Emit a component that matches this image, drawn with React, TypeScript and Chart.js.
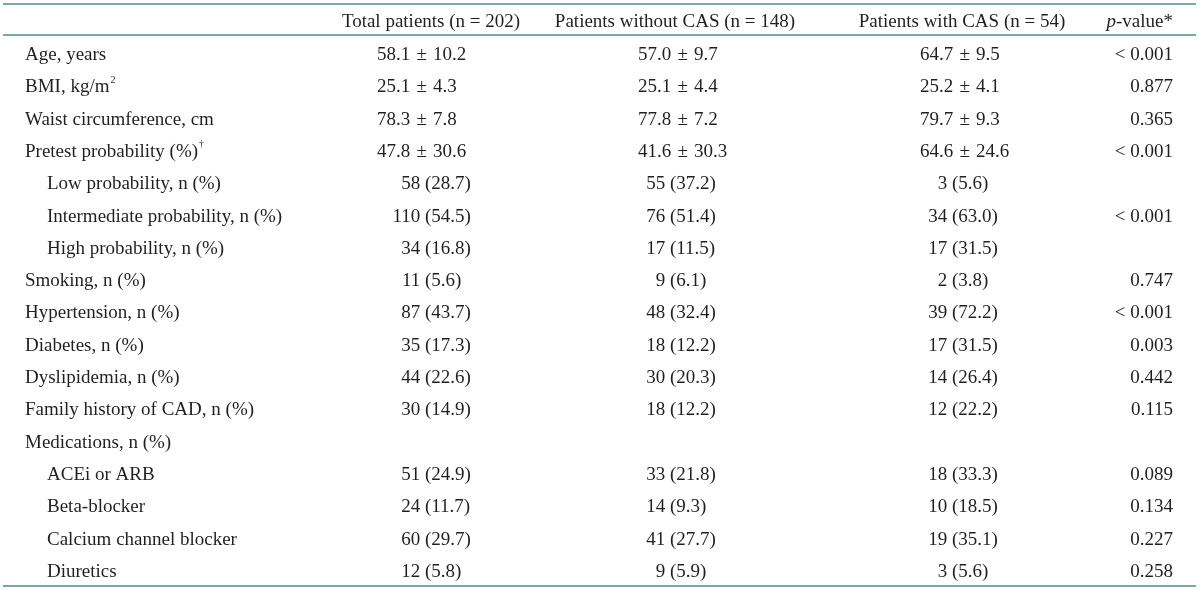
import React, { useEffect, useRef } from 'react';
import { Chart, registerables } from 'chart.js';
Chart.register(...registerables);

// ---- data ----
const columnHeaders = ['Total patients (n = 202)', 'Patients without CAS (n = 148)', 'Patients with CAS (n = 54)'];
const pHeader = ['p', '-value*'];

const rowLabels = [
  'Age, years',
  'BMI, kg/m',
  'Waist circumference, cm',
  'Pretest probability (%)',
  'Low probability, n (%)',
  'Intermediate probability, n (%)',
  'High probability, n (%)',
  'Smoking, n (%)',
  'Hypertension, n (%)',
  'Diabetes, n (%)',
  'Dyslipidemia, n (%)',
  'Family history of CAD, n (%)',
  'Medications, n (%)',
  'ACEi or ARB',
  'Beta-blocker',
  'Calcium channel blocker',
  'Diuretics',
];
const rowSuperscripts = ['', '2', '', '\u2020', '', '', '', '', '', '', '', '', '', '', '', '', ''];
const rowIndented = [false, false, false, false, true, true, true, false, false, false, false, false, false, true, true, true, true];

const totalPatients = [
  '58.1 ± 10.2', '25.1 ± 4.3', '78.3 ± 7.8', '47.8 ± 30.6',
  '58 (28.7)', '110 (54.5)', '34 (16.8)', '11 (5.6)', '87 (43.7)', '35 (17.3)',
  '44 (22.6)', '30 (14.9)', '', '51 (24.9)', '24 (11.7)', '60 (29.7)', '12 (5.8)',
];
const withoutCAS = [
  '57.0 ± 9.7', '25.1 ± 4.4', '77.8 ± 7.2', '41.6 ± 30.3',
  '55 (37.2)', '76 (51.4)', '17 (11.5)', '9 (6.1)', '48 (32.4)', '18 (12.2)',
  '30 (20.3)', '18 (12.2)', '', '33 (21.8)', '14 (9.3)', '41 (27.7)', '9 (5.9)',
];
const withCAS = [
  '64.7 ± 9.5', '25.2 ± 4.1', '79.7 ± 9.3', '64.6 ± 24.6',
  '3 (5.6)', '34 (63.0)', '17 (31.5)', '2 (3.8)', '39 (72.2)', '17 (31.5)',
  '14 (26.4)', '12 (22.2)', '', '18 (33.3)', '10 (18.5)', '19 (35.1)', '3 (5.6)',
];
const pValues = [
  '< 0.001', '0.877', '0.365', '< 0.001', '', '< 0.001', '', '0.747', '< 0.001',
  '0.003', '0.442', '0.115', '', '0.089', '0.134', '0.227', '0.258',
];

// ---- layout ----
const W = 1200;
const H = 590;
const FONT = 'Liberation Serif';
const FS = 19;
const TEXT = '#231f20';
const RULE = '#4a8c8e';
const rowPitch = 32.31;
const firstBaseline = 60;
const headerRow = -1.021;
const ruleRows = [-1.733, -0.774, 16.28];
const labelX = 25;
const indentX = 47;
const meanX = [377, 638, 920];
const parenX = [425, 670, 952];
const headerCenterX = [431, 675, 962];
const pRightX = 1173;

const columns = [totalPatients, withoutCAS, withCAS];

function buildPoints(col: string[], c: number) {
  return col.map((v, i) => ({ x: v.includes('±') ? meanX[c] : parenX[c], y: i }));
}

const tablePlugin = {
  id: 'tableText',
  afterDatasetsDraw(chart: any) {
    const ctx = chart.ctx as CanvasRenderingContext2D;
    const xs = chart.scales.x;
    const ys = chart.scales.y;
    ctx.save();
    // rules
    ctx.strokeStyle = RULE;
    ctx.lineWidth = 1.5;
    ruleRows.forEach((r) => {
      const y = ys.getPixelForValue(r);
      ctx.beginPath();
      ctx.moveTo(xs.getPixelForValue(3), y);
      ctx.lineTo(xs.getPixelForValue(1196), y);
      ctx.stroke();
    });
    ctx.fillStyle = TEXT;
    ctx.textBaseline = 'alphabetic';
    ctx.font = `${FS}px "${FONT}"`;
    // headers
    const hy = ys.getPixelForValue(headerRow);
    ctx.textAlign = 'center';
    columnHeaders.forEach((h, c) => ctx.fillText(h, xs.getPixelForValue(headerCenterX[c]), hy));
    ctx.textAlign = 'right';
    const restW = ctx.measureText(pHeader[1]).width;
    ctx.fillText(pHeader[1], xs.getPixelForValue(pRightX), hy);
    ctx.font = `italic ${FS}px "${FONT}"`;
    ctx.fillText(pHeader[0], xs.getPixelForValue(pRightX) - restW, hy);
    ctx.font = `${FS}px "${FONT}"`;

    // row labels (dataset 0)
    const labelMeta = chart.getDatasetMeta(0);
    labelMeta.data.forEach((pt: any, i: number) => {
      ctx.textAlign = 'left';
      ctx.font = `${FS}px "${FONT}"`;
      ctx.fillText(rowLabels[i], pt.x, pt.y);
      if (rowSuperscripts[i]) {
        const w = ctx.measureText(rowLabels[i]).width;
        ctx.font = `${Math.round(FS * 0.55)}px "${FONT}"`;
        ctx.fillText(rowSuperscripts[i], pt.x + w + 1, pt.y - FS * 0.5);
        ctx.font = `${FS}px "${FONT}"`;
      }
    });

    // value columns (datasets 1..3)
    const space = ctx.measureText(' ').width;
    columns.forEach((col, c) => {
      const meta = chart.getDatasetMeta(c + 1);
      meta.data.forEach((pt: any, i: number) => {
        const v = col[i];
        if (!v) return;
        if (v.includes('±')) {
          ctx.textAlign = 'left';
          const parts = v.split(' ± ');
          ctx.fillText(parts[0], pt.x, pt.y);
          let x = pt.x + ctx.measureText(parts[0]).width + space * 1.3;
          ctx.fillText('±', x, pt.y);
          x += ctx.measureText('±').width + space * 1.3;
          ctx.fillText(parts[1], x, pt.y);
        } else {
          const idx = v.indexOf(' (');
          ctx.textAlign = 'right';
          ctx.fillText(v.slice(0, idx), pt.x - space, pt.y);
          ctx.textAlign = 'left';
          ctx.fillText(v.slice(idx + 1), pt.x, pt.y);
        }
      });
    });

    // p-values (dataset 4)
    const pMeta = chart.getDatasetMeta(4);
    ctx.textAlign = 'right';
    pMeta.data.forEach((pt: any, i: number) => {
      if (pValues[i]) ctx.fillText(pValues[i], pt.x, pt.y);
    });
    ctx.restore();
  },
};

export default function App() {
  const ref = useRef<HTMLCanvasElement | null>(null);
  useEffect(() => {
    if (!ref.current) return;
    const hidden = { pointRadius: 0, pointHoverRadius: 0, showLine: false };
    const chart = new Chart(ref.current, {
      type: 'scatter',
      data: {
        datasets: [
          { label: 'labels', data: rowLabels.map((_, i) => ({ x: rowIndented[i] ? indentX : labelX, y: i })), ...hidden },
          { label: 'total', data: buildPoints(totalPatients, 0), ...hidden },
          { label: 'without', data: buildPoints(withoutCAS, 1), ...hidden },
          { label: 'with', data: buildPoints(withCAS, 2), ...hidden },
          { label: 'p', data: pValues.map((_, i) => ({ x: pRightX, y: i })), ...hidden },
        ],
      },
      options: {
        animation: false,
        responsive: false,
        maintainAspectRatio: false,
        events: [],
        layout: { padding: 0 },
        plugins: { legend: { display: false }, tooltip: { enabled: false } },
        scales: {
          x: { type: 'linear', display: false, min: 0, max: W },
          y: {
            type: 'linear',
            display: false,
            reverse: true,
            min: -firstBaseline / rowPitch,
            max: (H - firstBaseline) / rowPitch,
          },
        },
      },
      plugins: [tablePlugin],
    });
    return () => chart.destroy();
  }, []);
  return (
    <div style={{ position: 'absolute', left: 0, top: 0, width: W, height: H, background: '#fff' }}>
      <canvas ref={ref} width={W} height={H} style={{ display: 'block' }} />
    </div>
  );
}
